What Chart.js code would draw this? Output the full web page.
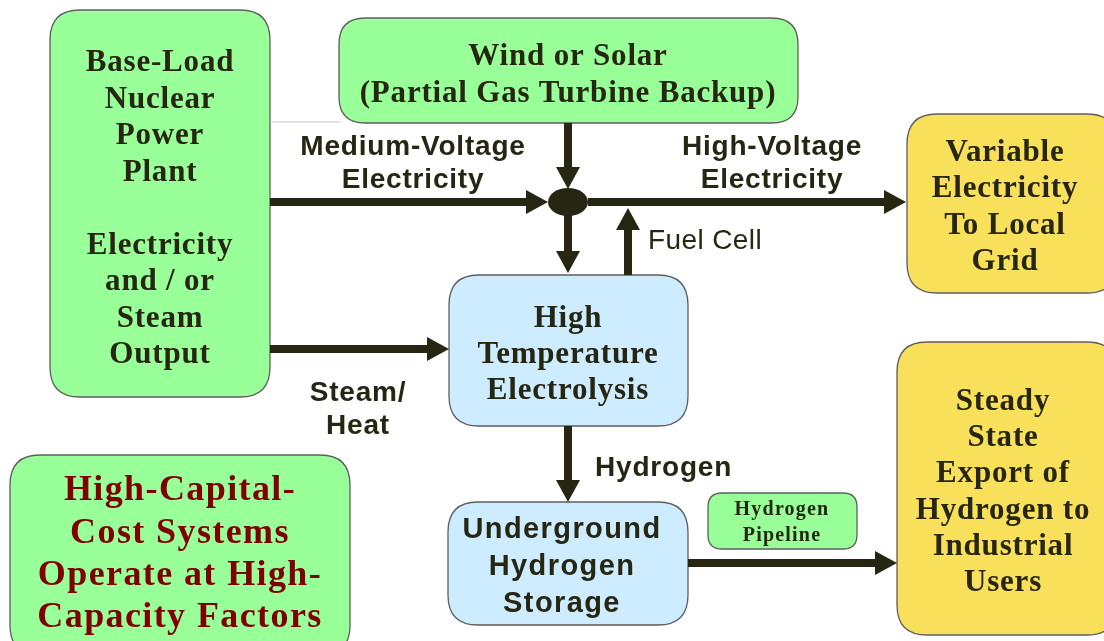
<!DOCTYPE html>
<html>
<head>
<meta charset="utf-8">
<script src="https://cdn.jsdelivr.net/npm/chart.js@4.4.1/dist/chart.umd.min.js"></script>
<style>
  html, body { margin: 0; padding: 0; background: #ffffff; }
  #wrap { width: 1104px; height: 641px; position: relative; }
</style>
</head>
<body>
<div id="wrap"><canvas id="diagram"></canvas></div>
<script>
// diagram units = 1104 x 641, y grows downward (reversed axis)
const boxLabels = [
  ['Base-Load', 'Nuclear', 'Power', 'Plant', '', 'Electricity', 'and / or', 'Steam', 'Output'],
  ['Wind or Solar', '(Partial Gas Turbine Backup)'],
  ['Variable', 'Electricity', 'To Local', 'Grid'],
  ['High', 'Temperature', 'Electrolysis'],
  ['Underground', 'Hydrogen', 'Storage'],
  ['Hydrogen', 'Pipeline'],
  ['Steady', 'State', 'Export of', 'Hydrogen to', 'Industrial', 'Users'],
  ['High-Capital-', 'Cost Systems', 'Operate at High-', 'Capacity Factors']
];
const boxKinds = ['green', 'green', 'yellow', 'blue', 'blue', 'green', 'yellow', 'green'];
const boxFonts = ['serif', 'serif', 'serif', 'serif', 'sans', 'small', 'serif', 'big'];
// x, y, w, h of each box
const boxRects = [
  [50, 10, 220, 387],
  [339, 18, 459, 105],
  [907, 114, 210, 179],
  [449, 275, 239, 151],
  [448, 502, 240, 123],
  [708, 493, 149, 56],
  [897, 342, 220, 293],
  [10, 455, 340, 200]
];
// centre of the text block and line step
const textCenters = [[160, 206, 36.5], [568, 72.5, 37], [1005, 204.5, 36.4], [568, 352, 36],
                     [562, 565, 37], [782, 522, 26], [1003, 489.5, 36.2], [180, 551.5, 42.3]];

const arrowNames = ['wind', 'medium', 'toElectrolysis', 'fuelCell', 'high', 'steam', 'hydrogen', 'pipeline'];
const arrowFrom = [[568, 123], [270, 202], [568, 214], [628, 275], [588, 202], [270, 349], [568, 426], [688, 563]];
const arrowTo = [[568, 189], [548, 202], [568, 273], [628, 208], [906, 202], [449, 349], [568, 502], [897, 563]];

const flowLabels = [
  ['Medium-Voltage', 'Electricity'],
  ['High-Voltage', 'Electricity'],
  ['Fuel Cell'],
  ['Steam/', 'Heat'],
  ['Hydrogen']
];
const flowAnchors = [[413, 146, 'center'], [772, 146, 'center'], [648, 240, 'left'], [358, 392, 'center'], [595, 467, 'left']];

const junction = [568, 202];

const fills = { green: '#99ff99', yellow: '#f9e05b', blue: '#cdecff' };
const ink = '#262612';
const HEAD_LEN = 22, HEAD_HALF = 12;

function shaftEnd(i) {
  const [x0, y0] = arrowFrom[i], [x1, y1] = arrowTo[i];
  const d = Math.hypot(x1 - x0, y1 - y0);
  return { x: x1 - (x1 - x0) / d * (HEAD_LEN - 2), y: y1 - (y1 - y0) / d * (HEAD_LEN - 2) };
}

const datasets = arrowNames.map((name, i) => ({
  label: name,
  data: [{ x: arrowFrom[i][0], y: arrowFrom[i][1] }, shaftEnd(i)],
  showLine: true,
  borderColor: ink,
  borderWidth: 8,
  borderCapStyle: 'butt',
  pointRadius: 0,
  clip: false
}));
datasets.unshift({
  label: 'rule',
  data: [{ x: 270, y: 122 }, { x: 340, y: 122 }],
  showLine: true, borderColor: '#c4c4c4', borderWidth: 1, pointRadius: 0
});

function roundRect(ctx, x, y, w, h, r) {
  ctx.beginPath();
  ctx.moveTo(x + r, y);
  ctx.lineTo(x + w - r, y);
  ctx.quadraticCurveTo(x + w, y, x + w, y + r);
  ctx.lineTo(x + w, y + h - r);
  ctx.quadraticCurveTo(x + w, y + h, x + w - r, y + h);
  ctx.lineTo(x + r, y + h);
  ctx.quadraticCurveTo(x, y + h, x, y + h - r);
  ctx.lineTo(x, y + r);
  ctx.quadraticCurveTo(x, y, x + r, y);
  ctx.closePath();
}

const fontStyles = {
  serif: { font: 'bold 31px "Liberation Serif"', spacing: '0.8px', color: ink, dy: 3 },
  sans: { font: 'bold 29px "Liberation Sans"', spacing: '1.4px', color: ink, dy: 2 },
  small: { font: 'bold 20px "Liberation Serif"', spacing: '1.2px', color: ink, dy: 1 },
  big: { font: 'bold 36px "Liberation Serif"', spacing: '1.4px', color: '#800000', dy: 3 }
};

const diagramPlugin = {
  id: 'diagram',
  beforeDatasetsDraw(chart) {
    const { ctx, scales: { x, y } } = chart;
    ctx.save();
    boxRects.forEach((r, i) => {
      const px = x.getPixelForValue(r[0]), py = y.getPixelForValue(r[1]);
      const pw = x.getPixelForValue(r[0] + r[2]) - px, ph = y.getPixelForValue(r[1] + r[3]) - py;
      const rad = Math.min(30, ph / 4);
      roundRect(ctx, px, py, pw, ph, rad);
      ctx.fillStyle = fills[boxKinds[i]];
      ctx.fill();
      ctx.lineWidth = 1.3;
      ctx.strokeStyle = '#5e5e5e';
      ctx.stroke();

      const st = fontStyles[boxFonts[i]];
      const [cx, cy, step] = textCenters[i];
      const lines = boxLabels[i];
      ctx.font = st.font;
      ctx.letterSpacing = st.spacing;
      ctx.fillStyle = st.color;
      ctx.textAlign = 'center';
      ctx.textBaseline = 'middle';
      lines.forEach((t, k) => {
        const ty = cy + st.dy + (k - (lines.length - 1) / 2) * step;
        ctx.fillText(t, x.getPixelForValue(cx), y.getPixelForValue(ty));
      });
    });
    ctx.restore();
  },
  afterDatasetsDraw(chart) {
    const { ctx, scales: { x, y } } = chart;
    ctx.save();
    ctx.fillStyle = ink;
    arrowTo.forEach((t, i) => {
      const tx = x.getPixelForValue(t[0]), ty = y.getPixelForValue(t[1]);
      const fx = x.getPixelForValue(arrowFrom[i][0]), fy = y.getPixelForValue(arrowFrom[i][1]);
      const d = Math.hypot(tx - fx, ty - fy);
      const ux = (tx - fx) / d, uy = (ty - fy) / d;
      const bx = tx - ux * HEAD_LEN, by = ty - uy * HEAD_LEN;
      ctx.beginPath();
      ctx.moveTo(tx, ty);
      ctx.lineTo(bx - uy * HEAD_HALF, by + ux * HEAD_HALF);
      ctx.lineTo(bx + uy * HEAD_HALF, by - ux * HEAD_HALF);
      ctx.closePath();
      ctx.fill();
    });
    // junction node
    ctx.beginPath();
    ctx.ellipse(x.getPixelForValue(junction[0]), y.getPixelForValue(junction[1]), 20, 14, 0, 0, Math.PI * 2);
    ctx.fill();

    // flow labels
    ctx.textBaseline = 'middle';
    flowLabels.forEach((lines, i) => {
      const [ax, ay, align] = flowAnchors[i];
      ctx.font = (i === 2 ? '' : 'bold ') + '28px "Liberation Sans"';
      ctx.letterSpacing = i === 2 ? '0.4px' : '0.8px';
      ctx.textAlign = align;
      lines.forEach((t, k) => {
        ctx.fillText(t, x.getPixelForValue(ax), y.getPixelForValue(ay + 1 + k * 33));
      });
    });
    ctx.restore();
  }
};

new Chart(document.getElementById('diagram'), {
  type: 'scatter',
  data: { datasets },
  options: {
    responsive: true,
    maintainAspectRatio: false,
    animation: false,
    events: [],
    layout: { padding: 0 },
    plugins: { legend: { display: false }, tooltip: { enabled: false } },
    scales: {
      x: { type: 'linear', min: 0, max: 1104, display: false },
      y: { type: 'linear', min: 0, max: 641, reverse: true, display: false }
    }
  },
  plugins: [diagramPlugin]
});
</script>
</body>
</html>
